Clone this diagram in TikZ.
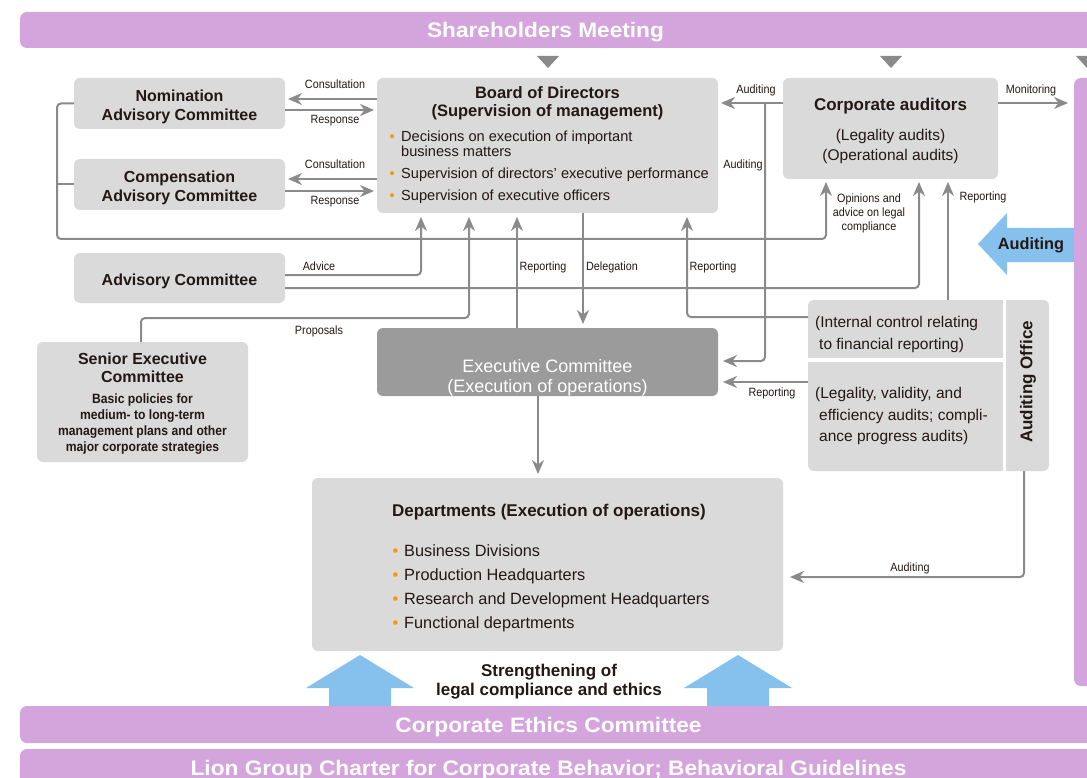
\documentclass[tikz,border=0pt]{standalone}
\usepackage{fontspec}
\setmainfont{Liberation Sans}
\newfontfamily\condf[FakeStretch=0.9]{Liberation Sans}
\newfontfamily\widef[FakeStretch=1.08]{Liberation Sans}
\usetikzlibrary{arrows.meta}
\definecolor{purp}{RGB}{212,165,220}
\definecolor{boxg}{RGB}{218,218,218}
\definecolor{execg}{RGB}{155,155,155}
\definecolor{lineg}{RGB}{138,138,138}
\definecolor{blu}{RGB}{134,193,238}
\definecolor{bulo}{RGB}{243,152,0}
\definecolor{txtc}{RGB}{35,24,21}
\newcommand{\bulmark}{\makebox[11.5pt][l]{\textcolor{bulo}{\textbullet}}}
\begin{document}
\begin{tikzpicture}[x=1pt,y=-1pt,
  box/.style={fill=boxg, rounded corners=6pt, inner sep=0pt, outer sep=0pt},
  bar/.style={fill=purp, rounded corners=7pt, inner sep=0pt, outer sep=0pt},
  conn/.style={draw=lineg, line width=2pt, rounded corners=4pt},
  arr/.style={conn, -{Stealth[length=14pt,width=12pt,inset=4.5pt]}, shorten >=3pt},
  tx/.style={text=txtc, inner sep=0pt, anchor=base},
  lab/.style={tx, font=\condf\fontsize{12}{14}\selectfont},
  ttl/.style={tx, font=\bfseries\fontsize{16}{19}\selectfont},
  bdy/.style={tx, font=\fontsize{15.5}{18}\selectfont},
  bartxt/.style={tx, text=white, font=\widef\bfseries\fontsize{21}{24}\selectfont}
]
\useasboundingbox (0,0) rectangle (1087,778);
\clip (0,0) rectangle (1087,778);
\fill[white] (0,0) rectangle (1087,778);

% helper levels
\foreach \v in {99,103,110,179,191,239,275,288,317,318,361,382,577}
  {\coordinate (Y\v) at (0,\v);}
\foreach \v in {57,141,421,469,517,538,583,687,765,826,919,948,1024}
  {\coordinate (X\v) at (\v,0);}

% blue arrows (under bars)
\fill[blu] (329,707) -- (329,688) -- (306,688) -- (360,655) -- (414,688) -- (391,688) -- (391,707) -- cycle;
\fill[blu] (707,707) -- (707,688) -- (684,688) -- (738,655) -- (792,688) -- (769,688) -- (769,707) -- cycle;
\fill[blu] (1076,228) -- (1007,228) -- (1007,213) -- (978,244) -- (1007,275) -- (1007,262) -- (1076,262) -- cycle;

% bars
\node[bar, anchor=north west, minimum width=1100pt, minimum height=36pt] (shm) at (20,12) {};
\node[bar, anchor=north west, minimum width=1100pt, minimum height=37pt] (cec) at (20,706) {};
\node[bar, anchor=north west, minimum width=1100pt, minimum height=60pt] (lion) at (20,749) {};
\node[bar, anchor=north west, minimum width=60pt, minimum height=608pt] (rbar) at (1074,78) {};
\node[bartxt] (shmt) at (545.5,37.5) {Shareholders Meeting};
\node[bartxt] (cect) at (548.5,732) {Corporate Ethics Committee};
\node[bartxt] (liont) at (548.5,775.5) {Lion Group Charter for Corporate Behavior; Behavioral Guidelines};

% down triangles
\fill[lineg] (537,56) -- (559,56) -- (548,68) -- cycle;
\fill[lineg] (880,56) -- (902,56) -- (891,68) -- cycle;
\fill[lineg] (1076,56) -- (1098,56) -- (1087,68) -- cycle;

% boxes
\node[box, minimum width=211pt, minimum height=51pt] (nom) at (179.5,103.5) {};
\node[box, minimum width=211pt, minimum height=51pt] (comp) at (179.5,184.5) {};
\node[box, minimum width=211pt, minimum height=50pt] (adv) at (179.5,278) {};
\node[box, minimum width=211pt, minimum height=120pt] (sec) at (142.5,402) {};
\node[box, minimum width=341pt, minimum height=135pt] (board) at (547.5,145.5) {};
\node[box, fill=execg, minimum width=341pt, minimum height=68pt] (exec) at (547.5,362) {};
\node[box, minimum width=215pt, minimum height=101pt] (ca) at (890.5,128.5) {};
\node[box, minimum width=241pt, minimum height=171pt] (ao) at (928.5,385.5) {};
\draw[white, line width=3pt] (1004.5,298) -- (1004.5,473);
\draw[white, line width=4pt] (806,360) -- (1004,360);
\node[box, minimum width=471pt, minimum height=173pt] (dept) at (547.5,564.5) {};

% box texts
\node[ttl] (nomt1) at (179.5,102) {Nomination};
\node[ttl] (nomt2) at (179.5,121) {Advisory Committee};
\node[ttl] (compt1) at (179.5,183) {Compensation};
\node[ttl] (compt2) at (179.5,202) {Advisory Committee};
\node[ttl] (advt) at (179.5,285) {Advisory Committee};
\node[ttl] (sect1) at (142.5,364) {Senior Executive};
\node[ttl] (sect2) at (142.5,382) {Committee};
\begin{scope}[every node/.style={tx, font=\condf\bfseries\fontsize{13.5}{15}\selectfont}]
\node (secs1) at (142.5,403) {Basic policies for};
\node (secs2) at (142.5,419) {medium- to long-term};
\node (secs3) at (142.5,435) {management plans and other};
\node (secs4) at (142.5,451) {major corporate strategies};
\end{scope}

\node[tx, font=\bfseries\fontsize{16.5}{18}\selectfont] (bt1) at (547.5,99) {Board of Directors};
\node[tx, font=\bfseries\fontsize{16.5}{18}\selectfont] (bt2) at (547.5,117) {(Supervision of management)};
\begin{scope}[every node/.style={tx, anchor=base west, font=\fontsize{14.6}{16}\selectfont}]
\node (bb1) at (389.5,142) {\bulmark Decisions on execution of important};
\node (bb2) at (401,157) {business matters};
\node (bb3) at (389.5,179) {\bulmark Supervision of directors’ executive performance};
\node (bb4) at (389.5,201) {\bulmark Supervision of executive officers};
\end{scope}

\node[tx, font=\bfseries\fontsize{17}{19}\selectfont] (cat1) at (890.5,111) {Corporate auditors};
\node[bdy] (cat2) at (890.5,141) {(Legality audits)};
\node[bdy] (cat3) at (890.5,161) {(Operational audits)};

\node[tx, text=white, font=\fontsize{18}{20}\selectfont] (ext1) at (547.5,372.5) {Executive Committee};
\node[tx, text=white, font=\fontsize{18}{20}\selectfont] (ext2) at (547.5,392.5) {(Execution of operations)};

\node[tx, anchor=base west, font=\bfseries\fontsize{17}{19}\selectfont] (dt) at (392,516) {Departments (Execution of operations)};
\begin{scope}[every node/.style={tx, anchor=base west, font=\fontsize{16.3}{18}\selectfont}]
\node (db1) at (392.5,556) {\bulmark Business Divisions};
\node (db2) at (392.5,580) {\bulmark Production Headquarters};
\node (db3) at (392.5,604) {\bulmark Research and Development Headquarters};
\node (db4) at (392.5,628) {\bulmark Functional departments};
\end{scope}

\begin{scope}[every node/.style={bdy, anchor=base west}]
\node (ao1) at (815,327) {(Internal control relating};
\node (ao2) at (819,349) {to financial reporting)};
\node (ao3) at (815,398) {(Legality, validity, and};
\node (ao4) at (819,420) {efficiency audits; compli-};
\node (ao5) at (819,441) {ance progress audits)};
\end{scope}
\node[tx, anchor=center, rotate=90, font=\bfseries\fontsize{17}{19}\selectfont] (aot) at (1028,382) {Auditing Office};

\node[tx, font=\bfseries\fontsize{16.3}{19}\selectfont] (audbl) at (1031,250) {Auditing};
\node[tx, font=\bfseries\fontsize{17}{19}\selectfont] (str1) at (549,676) {Strengthening of};
\node[tx, font=\bfseries\fontsize{17}{19}\selectfont] (str2) at (549,695) {legal compliance and ethics};

% connector labels
\node[lab] (l1) at (335,89) {Consultation};
\node[lab] (l2) at (335,124) {Response};
\node[lab] (l3) at (335,169) {Consultation};
\node[lab] (l4) at (335,205) {Response};
\node[lab] (l5) at (319,270) {Advice};
\node[lab] (l6) at (319,334) {Proposals};
\node[lab] (l7) at (543,270) {Reporting};
\node[lab] (l8) at (612,270) {Delegation};
\node[lab] (l9) at (713,270) {Reporting};
\node[lab] (l10) at (756,94) {Auditing};
\node[lab] (l11) at (743,169) {Auditing};
\node[lab] (l12) at (1031,94) {Monitoring};
\node[lab] (l13) at (869,203) {Opinions and};
\node[lab] (l14) at (869,216.5) {advice on legal};
\node[lab] (l15) at (869,230) {compliance};
\node[lab] (l16) at (983,201) {Reporting};
\node[lab] (l17) at (772,396) {Reporting};
\node[lab] (l18) at (910,571) {Auditing};

% connectors
\draw[arr] (board.west |- Y99) -- (nom.east |- Y99);
\draw[arr] (nom.east |- Y110) -- (board.west |- Y110);
\draw[arr] (board.west |- Y179) -- (comp.east |- Y179);
\draw[arr] (comp.east |- Y191) -- (board.west |- Y191);
\draw[arr] (nom.west) -- (nom.west -| X57) -- (X57 |- Y239) -- (X826 |- Y239) -- (X826 |- ca.south);
\draw[conn] (comp.west) -- (comp.west -| X57);
\draw[arr, shorten >=4pt] (adv.east |- Y275) -- (X421 |- Y275) -- (X421 |- board.south);
\draw[arr] (adv.east |- Y288) -- (X919 |- Y288) -- (X919 |- ca.south);
\draw[arr, shorten >=4pt] (X141 |- sec.north) -- (X141 |- Y318) -- (X469 |- Y318) -- (X469 |- board.south);
\draw[arr, shorten >=4pt] (X517 |- exec.north) -- (X517 |- board.south);
\draw[arr, shorten >=4pt] (X583 |- board.south) -- (X583 |- exec.north);
\draw[arr, shorten >=4pt] (ao.west |- Y317) -- (X687 |- Y317) -- (X687 |- board.south);
\draw[arr] (ca.west |- Y103) -- (board.east |- Y103);
\draw[arr, shorten >=5pt] (X765 |- Y103) -- (X765 |- Y361) -- (exec.east |- Y361);
\draw[arr, shorten >=6pt] (ca.east |- Y103) -- (rbar.west |- Y103);
\draw[arr] (X948 |- ao.north) -- (X948 |- ca.south);
\draw[arr, shorten >=5pt] (ao.west |- Y382) -- (exec.east |- Y382);
\draw[arr, shorten >=7pt] (X1024 |- ao.south) -- (X1024 |- Y577) -- (dept.east |- Y577);
\draw[arr, shorten >=4pt] (X538 |- exec.south) -- (X538 |- dept.north);
\end{tikzpicture}
\end{document}
